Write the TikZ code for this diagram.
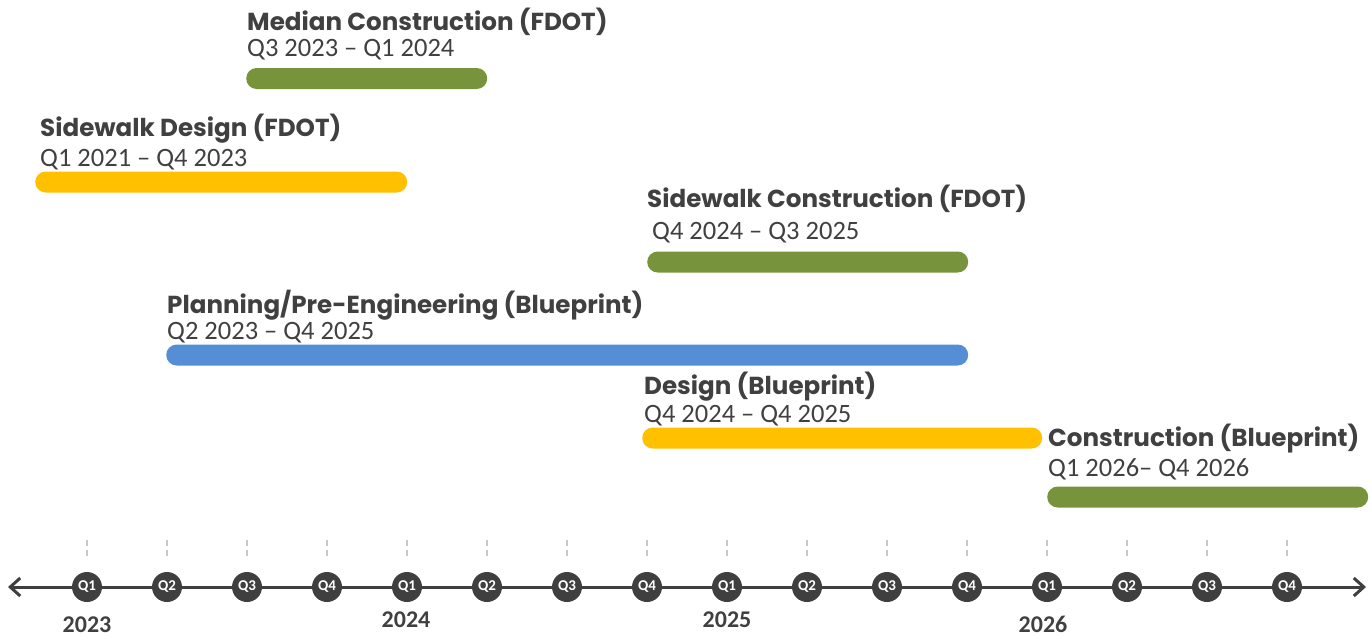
\documentclass[tikz,border=0pt]{standalone}
\usepackage{fontspec}
\setmainfont{Carlito}
\newfontfamily\titlefont{Poppins}
\usetikzlibrary{arrows.meta}
\definecolor{txt}{HTML}{404040}
\definecolor{dark}{HTML}{3F3F3F}
\definecolor{grn}{HTML}{77933C}
\definecolor{ylw}{HTML}{FFC000}
\definecolor{blu}{HTML}{558ED5}
\definecolor{tickgray}{HTML}{C8C8C8}
\begin{document}
\begin{tikzpicture}[x=1pt,y=-1pt,
  title/.style={anchor=base west, inner sep=0pt, text=txt, font=\titlefont\bfseries\fontsize{24.6}{28}\selectfont},
  dates/.style={anchor=base west, inner sep=0pt, text=txt, font=\fontsize{26.5}{30}\selectfont},
  bar/.style={draw=none, rounded corners=10.5pt, minimum height=21pt, inner sep=0pt, anchor=west},
  qnode/.style={circle, fill=dark, minimum size=30pt, inner sep=0pt, text=white, font=\bfseries\fontsize{15}{17}\selectfont},
  year/.style={inner sep=0pt, text=txt, font=\bfseries\fontsize{24}{27}\selectfont},
  tick/.style={draw=tickgray, line width=1.3pt, dash pattern=on 6pt off 4pt},
  axis/.style={draw=dark, line width=3pt, {Straight Barb[length=10pt,width=18pt,line width=3pt]}-{Straight Barb[length=10pt,width=18pt,line width=3pt]}}
]
\useasboundingbox (0,0) rectangle (1372,637);

% axis
\coordinate (L) at (8,587);
\coordinate (R) at (1366,587);
\draw[axis] (L) -- (R);
\foreach \i/\q in {0/Q1,1/Q2,2/Q3,3/Q4,4/Q1,5/Q2,6/Q3,7/Q4,8/Q1,9/Q2,10/Q3,11/Q4,12/Q1,13/Q2,14/Q3,15/Q4}{
  \coordinate (t\i a) at (87+80*\i,540);
  \coordinate (t\i b) at (87+80*\i,558);
  \draw[tick] (t\i a) -- (t\i b);
  \node[qnode] (q\i) at (87+80*\i,587) {\q};
}
\node[year] (y2023) at (87,625) {2023};
\node[year] (y2024) at (406,620) {2024};
\node[year] (y2025) at (727,620) {2025};
\node[year] (y2026) at (1043,624) {2026};

% Median Construction
\node[title] (t1) at (247,30) {Median Construction (FDOT)};
\node[dates] (d1) at (247,56) {Q3 2023 – Q1 2024};
\node[bar, fill=grn, minimum width=241pt] (b1) at (246,78.5) {};

% Sidewalk Design
\node[title] (t2) at (40,136) {Sidewalk Design (FDOT)};
\node[dates] (d2) at (40,166) {Q1 2021 – Q4 2023};
\node[bar, fill=ylw, minimum width=372pt] (b2) at (35,182) {};

% Sidewalk Construction
\node[title] (t3) at (647,207) {Sidewalk Construction (FDOT)};
\node[dates] (d3) at (652,239) {Q4 2024 – Q3 2025};
\node[bar, fill=grn, minimum width=321pt] (b3) at (647,262) {};

% Planning
\node[title] (t4) at (167,313) {Planning/Pre-Engineering (Blueprint)};
\node[dates] (d4) at (167,339) {Q2 2023 – Q4 2025};
\node[bar, fill=blu, minimum width=802pt] (b4) at (166,355) {};

% Design
\node[title] (t5) at (644,394) {Design (Blueprint)};
\node[dates] (d5) at (644,422) {Q4 2024 – Q4 2025};
\node[bar, fill=ylw, minimum width=400pt] (b5) at (642,438) {};

% Construction
\node[title] (t6) at (1048,446) {Construction (Blueprint)};
\node[dates] (d6) at (1048,476) {Q1 2026– Q4 2026};
\node[bar, fill=grn, minimum width=321pt] (b6) at (1047,497) {};
\end{tikzpicture}
\end{document}
